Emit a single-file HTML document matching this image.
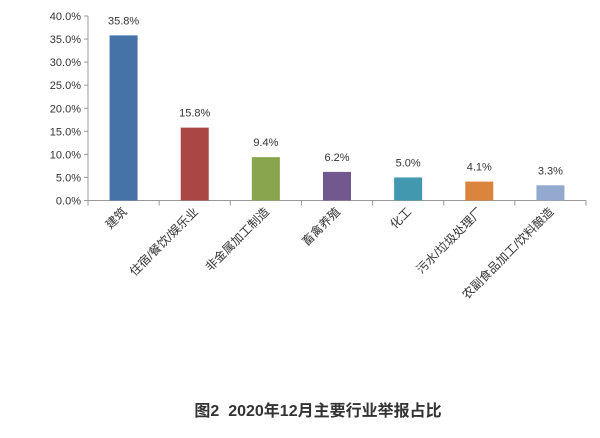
<!DOCTYPE html>
<html><head><meta charset="utf-8"><style>
body{margin:0;background:#fff;width:600px;height:433px;overflow:hidden;font-family:"Liberation Sans","Noto Sans CJK SC",sans-serif;}
</style></head><body>
<svg id="chart" width="600" height="433" xmlns="http://www.w3.org/2000/svg" style="font-family:'Liberation Sans','Noto Sans CJK SC',sans-serif">
<g id="axes"></g><g id="bars"></g>
<text x="318" y="416" text-anchor="middle" font-size="16" font-weight="bold" fill="#333">图2&#160;&#160;2020年12月主要行业举报占比</text>
</svg>
<script>
const categories=["建筑","住宿/餐饮/娱乐业","非金属加工制造","畜禽养殖","化工","污水/垃圾处理厂","农副食品加工/饮料酿造"];
const values=[35.8,15.8,9.4,6.2,5.0,4.1,3.3];
const yTicks=[0,5,10,15,20,25,30,35,40];
const colors=["#4572a7","#aa4643","#89a54e","#71588f","#4198af","#db843d","#93a9cf"];
const NS="http://www.w3.org/2000/svg";
const x0=88,x1=586,y0=200.5,yTop=16,yMax=40;
const bw=(x1-x0)/categories.length;
const y=v=>y0-(v/yMax)*(y0-yTop);
const ax=document.getElementById('axes'),bg=document.getElementById('bars');
function mk(t,a,p){const e=document.createElementNS(NS,t);for(const k in a)e.setAttribute(k,a[k]);p.appendChild(e);return e;}
let l=mk('line',{x1:x0,y1:yTop,x2:x0,y2:y0,stroke:'#999'},ax);


l=mk('line',{x1:x0,y1:y0,x2:x1,y2:y0,stroke:'#999'},ax);


yTicks.forEach(v=>{
 const t=mk('line',{x1:x0-4,y1:y(v),x2:x0,y2:y(v),stroke:'#999'},ax);
 
 
 const tx=mk('text',{x:x0-7,y:y(v)+4,'text-anchor':'end','font-size':11,fill:'#333'},ax);
 tx.textContent=v.toFixed(1)+'%';
 
 
});
for(let i=0;i<=categories.length;i++){
 const t=mk('line',{x1:x0+i*bw,y1:y0,x2:x0+i*bw,y2:y0+5,stroke:'#999'},ax);
 
 
}
values.forEach((v,i)=>{
 const cx=x0+bw*(i+0.5);
 const r=mk('rect',{x:cx-14,y:y(v),width:28,height:y0-y(v),fill:colors[i]},bg);
 
 
 const t=mk('text',{x:cx,y:y(v)-11,'text-anchor':'middle','font-size':11,fill:'#333'},bg);
 t.textContent=v.toFixed(1)+'%';
 
 
 const c=mk('text',{x:0,y:0,'text-anchor':'end','font-size':12,fill:'#333',transform:'translate('+(cx+4)+','+(y0+12)+') rotate(-45)'},bg);
 c.textContent=categories[i];
 
 
});
</script>
</body></html>
